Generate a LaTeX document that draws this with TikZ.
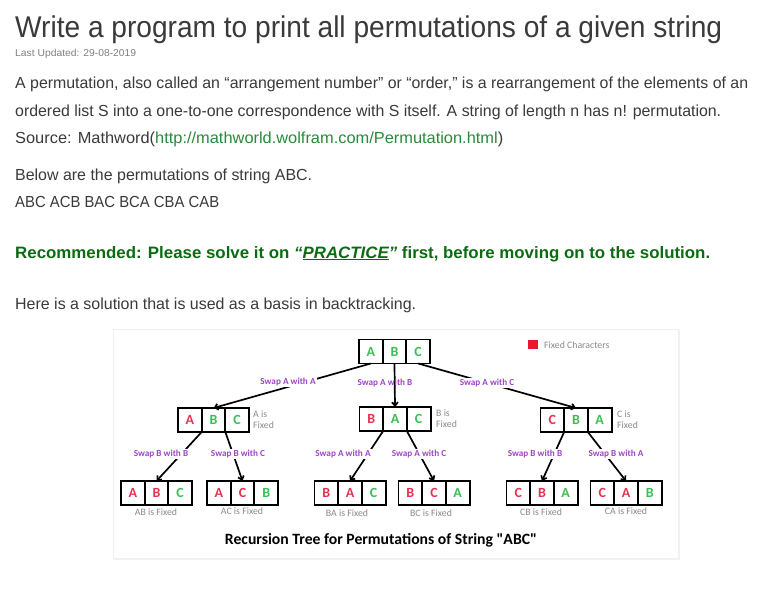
\documentclass[tikz,border=0pt]{standalone}
\usepackage{fontspec}
\setmainfont{Liberation Sans}
\newfontfamily\carl{Carlito}
\usetikzlibrary{arrows.meta}
\definecolor{txt}{HTML}{3A3A3A}
\definecolor{lnk}{HTML}{2A8A3A}
\definecolor{rec}{HTML}{0C6B12}
\definecolor{lred}{HTML}{E5334F}
\definecolor{lgreen}{HTML}{3BBF54}
\definecolor{purp}{HTML}{A044C8}
\definecolor{fixg}{HTML}{8A8A8A}
\definecolor{legred}{HTML}{E8182E}
\newcommand\fitw[2]{\resizebox{#1pt}{\height}{#2}}
\tikzset{
  pline/.style={anchor=base west, inner sep=0, text=txt, font=\fontsize{16}{19}\selectfont},
  cell/.style={draw, line width=1.9pt, minimum width=23.7pt, minimum height=24pt, inner sep=0, outer sep=0, font=\carl\bfseries\fontsize{14}{14}\selectfont},
  swaplab/.style={fill=white, inner sep=1pt, text=purp, font=\carl\bfseries\fontsize{9.2}{9.2}\selectfont},
  fixlab/.style={text=fixg, inner sep=0, font=\carl\fontsize{9.8}{11}\selectfont, align=left},
  arr/.style={line width=1.7pt, -{Straight Barb[length=3.5pt,width=6pt]}},
}
\newcommand\tribox[9]{%
  \node[cell, text=#5] (#1-1) at (#2-23.7,#3) {#4};
  \node[cell, text=#7] (#1-2) at (#2,#3) {#6};
  \node[cell, text=#9] (#1-3) at (#2+23.7,#3) {#8};
}
\begin{document}
\begin{tikzpicture}[x=1pt,y=-1pt]
\fill[white] (0,0) rectangle (782,605);
\useasboundingbox (0,0) rectangle (782,605);

% page text
\node[pline, font=\fontsize{30}{36}\selectfont] (title) at (15,37) {\fitw{707}{Write a program to print all permutations of a given string}};
\node[pline, text=gray, font=\fontsize{10}{12}\selectfont] (upd) at (15,56) {\fitw{121}{Last Updated: 29-08-2019}};
\node[pline] (p1) at (15,88) {\fitw{733}{A permutation, also called an “arrangement number” or “order,” is a rearrangement of the elements of an}};
\node[pline] (p2) at (15,116) {\fitw{706}{ordered list S into a one-to-one correspondence with S itself. A string of length n has n! permutation.}};
\node[pline] (p3) at (15,143) {\fitw{488}{Source: Mathword(\textcolor{lnk}{http://mathworld.wolfram.com/Permutation.html})}};
\node[pline] (p4) at (15,180) {\fitw{297}{Below are the permutations of string ABC.}};
\node[pline] (p5) at (15,207) {\fitw{204}{ABC ACB BAC BCA CBA CAB}};
\node[pline, text=rec, font=\bfseries\fontsize{16.5}{19}\selectfont] (p6) at (15,258) {\fitw{695}{Recommended: Please solve it on \textit{“\underline{PRACTICE}”} first, before moving on to the solution.}};
\node[pline] (p7) at (15,309) {\fitw{401}{Here is a solution that is used as a basis in backtracking.}};

% panel
\fill[gray!10] (114,330) rectangle (680,560);
\draw[gray!12, fill=white] (113,329) rectangle (678,558);

% legend
\fill[legred] (528,340) rectangle (538,349);
\node[fixlab, anchor=west] (leg) at (544,345) {Fixed Characters};

% boxes
\tribox{r}{394.5}{351.5}{A}{lgreen}{B}{lgreen}{C}{lgreen}
\tribox{L}{213.5}{420}{A}{lred}{B}{lgreen}{C}{lgreen}
\tribox{M}{395}{419}{B}{lred}{A}{lgreen}{C}{lgreen}
\tribox{R}{576}{420}{C}{lred}{B}{lgreen}{A}{lgreen}
\tribox{ba}{156.5}{493}{A}{lred}{B}{lred}{C}{lgreen}
\tribox{bb}{242.5}{493}{A}{lred}{C}{lred}{B}{lgreen}
\tribox{bc}{350}{493}{B}{lred}{A}{lred}{C}{lgreen}
\tribox{bd}{434}{493}{B}{lred}{C}{lred}{A}{lgreen}
\tribox{be}{542}{493}{C}{lred}{B}{lred}{A}{lgreen}
\tribox{bf}{626}{493}{C}{lred}{A}{lred}{B}{lgreen}

% arrows
\draw[arr] (r-1.south) -- (L-2.north);
\draw[arr] (r-2.south) -- (M-2.north);
\draw[arr] (r-3.south) -- (R-2.north);
\draw[arr] (L-1.south east) -- (ba-2.north);
\draw[arr] (L-2.south east) -- (bb-2.north);
\draw[arr] (M-1.south east) -- (bc-2.north);
\draw[arr] (M-2.south east) -- (bd-2.north);
\draw[arr] (R-1.south east) -- (be-2.north);
\draw[arr] (R-2.south east) -- (bf-2.north);

% swap labels
\node[swaplab] (s1) at (288,382) {Swap A with A};
\node[swaplab, fill=none] (s2) at (385,383) {Swap A with B};
\node[swaplab] (s3) at (487,383) {Swap A with C};
\node[swaplab] (s4) at (161,454) {Swap B with B};
\node[swaplab] (s5) at (238,454) {Swap B with C};
\node[swaplab] (s6) at (343,454) {Swap A with A};
\node[swaplab] (s7) at (419,454) {Swap A with C};
\node[swaplab] (s8) at (535,454) {Swap B with B};
\node[swaplab] (s9) at (616,454) {Swap B with A};

% fixed notes
\node[fixlab, anchor=west] (fL) at (253,420) {A is\\Fixed};
\node[fixlab, anchor=west] (fM) at (436,419) {B is\\Fixed};
\node[fixlab, anchor=west] (fR) at (617,420) {C is\\Fixed};
\node[fixlab] (ca) at (156,512) {AB is Fixed};
\node[fixlab] (cb) at (242,511) {AC is Fixed};
\node[fixlab] (cc) at (347,513) {BA is Fixed};
\node[fixlab] (cd) at (431,513) {BC is Fixed};
\node[fixlab] (ce) at (541,512) {CB is Fixed};
\node[fixlab] (cf) at (626,511) {CA is Fixed};

\node[inner sep=0, font=\carl\bfseries\fontsize{15.7}{18}\selectfont] (cap) at (381,540) {Recursion Tree for Permutations of String "ABC"};
\end{tikzpicture}
\end{document}
